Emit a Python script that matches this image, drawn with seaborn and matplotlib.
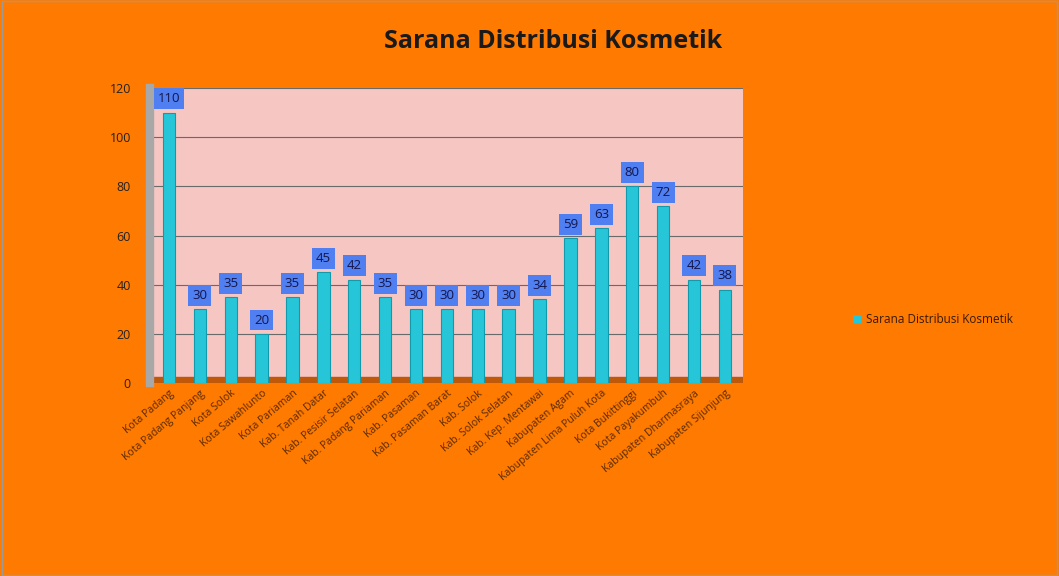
import pandas as pd
import seaborn as sns
import matplotlib.pyplot as plt
from matplotlib.patches import Patch, Rectangle

regions = ['Kota Padang', 'Kota Padang Panjang', 'Kota Solok', 'Kota Sawahlunto',
           'Kota Pariaman', 'Kab. Tanah Datar', 'Kab. Pesisir Selatan',
           'Kab. Padang Pariaman', 'Kab. Pasaman', 'Kab. Pasaman Barat',
           'Kab. Solok', 'Kab. Solok Selatan', 'Kab. Kep. Mentawai',
           'Kabupaten Agam', 'Kabupaten Lima Puluh Kota', 'Kota Bukittinggi',
           'Kota Payakumbuh', 'Kabupaten Dharmasraya', 'Kabupaten Sijunjung']
counts = [110, 30, 35, 20, 35, 45, 42, 35, 30, 30, 30, 30, 34, 59, 63, 80, 72, 42, 38]

df = pd.DataFrame({'Wilayah': regions, 'Jumlah': counts})

orange = '#ff7a00'
bar_col = '#26c6d8'
sns.set_theme(style='white')
plt.rcParams['font.family'] = ['Open Sans', 'DejaVu Sans']

fig = plt.figure(figsize=(10.59, 5.76), dpi=100, facecolor=orange)
ax = fig.add_axes([0.142, 0.335, 0.56, 0.512])
ax.set_facecolor('#f5c6c2')

sns.barplot(data=df, x='Wilayah', y='Jumlah', color=bar_col, saturation=1,
            width=0.4, edgecolor='#119aac', linewidth=0.8, ax=ax, zorder=3)

for i, v in enumerate(counts):
    ax.text(i, v + 3, str(v), ha='center', va='bottom', fontsize=9.5, color='#15154a',
            bbox=dict(boxstyle='square,pad=0.3', fc='#4f7ff0', ec='none'), zorder=4)

ax.set_ylim(0, 120)
ax.set_xlim(-0.6, len(regions) - 0.4)
ax.set_yticks(range(0, 121, 20))
ax.yaxis.grid(True, color='#6a6a6a', linewidth=0.8, zorder=0)
ax.axhspan(0, 2.5, color='#c0580a', zorder=2)
ax.set_xlabel('')
ax.set_ylabel('')
ax.tick_params(axis='y', labelsize=9, colors='#222222', length=0, pad=14)
ax.tick_params(axis='x', labelsize=7.5, colors='#5a2a00', length=0)
plt.setp(ax.get_xticklabels(), rotation=40, ha='right', rotation_mode='anchor')
for s in ['top', 'right', 'bottom']:
    ax.spines[s].set_visible(False)
ax.spines['left'].set_color('#a8a8a8')
ax.spines['left'].set_linewidth(6)

fig.suptitle('Sarana Distribusi Kosmetik', x=0.522, y=0.95, fontsize=18,
             fontweight='bold', color='#1a1a1a')

handle = Patch(facecolor=bar_col, edgecolor='none')
fig.legend([handle], ['Sarana Distribusi Kosmetik'], loc='center left',
           bbox_to_anchor=(0.795, 0.445), frameon=False, fontsize=8.5,
           handlelength=0.7, handleheight=0.7, handletextpad=0.4,
           labelcolor='#3a1a00')

fig.patches.append(Rectangle((0.002, 0.002), 0.996, 0.996, transform=fig.transFigure,
                             fill=False, edgecolor='#9a9a9a', linewidth=1))

fig.savefig('out.png', dpi=100, facecolor=orange)
